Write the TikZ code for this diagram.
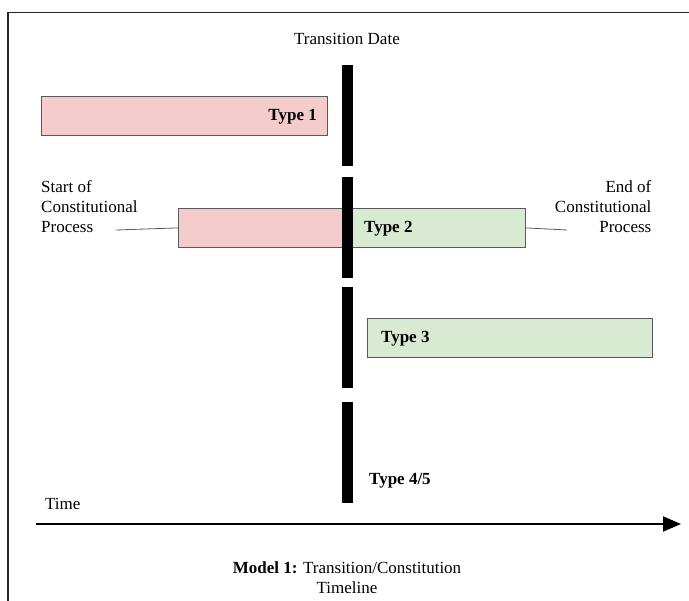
\documentclass[tikz,border=0pt]{standalone}
\usepackage{fontspec}
\setmainfont{Liberation Serif}
\usetikzlibrary{arrows.meta}
\definecolor{pinkfill}{HTML}{F4CCCC}
\definecolor{greenfill}{HTML}{D9EAD3}
\definecolor{boxline}{HTML}{595959}
\tikzset{
  lbl/.style={inner sep=0pt, font=\fontsize{17}{20}\selectfont},
  blbl/.style={lbl, font=\fontsize{17}{20}\selectfont\bfseries},
  bar/.style={fill=black, draw=none, minimum width=11pt, minimum height=101pt, inner sep=0pt, anchor=north west},
  pinkbox/.style={fill=pinkfill, draw=boxline, line width=0.8pt, inner sep=0pt, anchor=north west},
  greenbox/.style={fill=greenfill, draw=boxline, line width=0.8pt, inner sep=0pt, anchor=north west},
  leader/.style={draw=boxline, line width=0.8pt},
}
\begin{document}
\begin{tikzpicture}[x=1pt,y=-1pt]
\useasboundingbox (0,0) rectangle (689,601);
% frame
\draw[line width=1.8pt, draw=black!85] (8,601) -- (8,12.5) -- (689,12.5);

% boxes
\node[pinkbox, minimum width=286pt, minimum height=39pt] (t1) at (40.5,96) {};
\node[pinkbox, minimum width=165pt, minimum height=39pt] (t2a) at (178,208) {};
\node[greenbox, minimum width=182pt, minimum height=39pt] (t2b) at (343,208) {};
\node[greenbox, minimum width=285pt, minimum height=39pt] (t3) at (366.5,318) {};

% bars
\node[bar] (b1) at (342,65) {};
\node[bar] (b2) at (342,177) {};
\node[bar] (b3) at (342,287) {};
\node[bar] (b4) at (342,402) {};

% labels
\node[lbl, anchor=base] (td) at (347,45) {Transition Date};
\node[blbl, anchor=base east] (l1) at (317,121) {Type 1};
\node[blbl, anchor=base west] (l2) at (364,233) {Type 2};
\node[blbl, anchor=base west] (l3) at (381,343) {Type 3};
\node[blbl, anchor=base west] (l45) at (369,485) {Type 4/5};
\node[lbl, anchor=base west] (time) at (45,510) {Time};

\node[lbl, anchor=base west, align=left] (start) at (41,233) {Start of\\Constitutional\\Process};
\node[lbl, anchor=base east, align=right] (end) at (651.5,233) {End of\\Constitutional\\Process};

\coordinate (sl) at (116,230);
\coordinate (el) at (567,230);
\draw[leader] (sl) -- (t2a.west);
\draw[leader] (t2b.east) -- (el);

% time axis
\coordinate (ta) at (36,524);
\coordinate (tb) at (681,524);
\draw[line width=2pt, -{Triangle[length=18pt,width=15pt]}] (ta) -- (tb);

% caption
\node[lbl, anchor=base, align=center] (cap) at (347,594) {\textbf{Model 1:} Transition/Constitution\\Timeline};
\end{tikzpicture}
\end{document}
